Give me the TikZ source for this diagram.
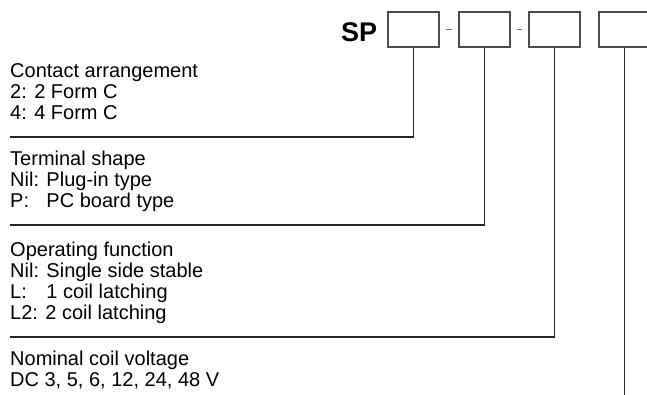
\documentclass[tikz,border=0pt]{standalone}
\usepackage{fontspec}
\setmainfont{Liberation Sans}
\usetikzlibrary{positioning}
\tikzset{
  digit/.style={draw=black!70, line width=1.2pt, minimum width=51pt, minimum height=35pt, inner sep=0pt},
  legend/.style={anchor=base west, align=left, inner sep=0pt, font=\fontsize{20}{21}\selectfont},
  leader/.style={draw=black!85, line width=1.1pt},
  hyph/.style={draw=black!55, line width=0.8pt},
}
\newcommand{\keyto}[1]{\rlap{#1}\hphantom{Nil: }}

\begin{document}
\begin{tikzpicture}[x=1pt,y=-1pt]
    \useasboundingbox (0,0) rectangle (647,395);
    % code boxes
    \node[digit] (b1) at (413.5,29.5) {};
    \node[digit] (b2) at (484.5,29.5) {};
    \node[digit] (b3) at (554.5,29.5) {};
    \node[digit] (b4) at (624.5,29.5) {};
    \node[left=10pt of b1, yshift=-3pt, inner sep=0pt, font=\fontsize{27}{27}\selectfont\bfseries] (sp) {SP};
    \draw[hyph] ([xshift=6pt]b1.east) -- ([xshift=-6pt]b2.west);
    \draw[hyph] ([xshift=6pt]b2.east) -- ([xshift=-6pt]b3.west);
    % legends (anchored on the last line)
    \node[legend] (contact) at (10,120) {Contact arrangement\\2: 2 Form C\\4: 4 Form C};
    \node[legend] (terminal) at (10,208) {Terminal shape\\Nil: Plug-in type\\\keyto{P:}PC board type};
    \node[legend] (function) at (10,319) {Operating function\\Nil: Single side stable\\\keyto{L:}1 coil latching\\L2: 2 coil latching};
    \node[legend] (voltage) at (10,386) {Nominal coil voltage\\DC 3, 5, 6, 12, 24, 48 V};
    % leaders
    \coordinate (r1) at (10,137);
    \coordinate (r2) at (10,225);
    \coordinate (r3) at (10,337);
    \coordinate (r4) at (624.5,395);
    \draw[leader] (b1.south) |- (r1);
    \draw[leader] (b2.south) |- (r2);
    \draw[leader] (b3.south) |- (r3);
    \draw[leader] (b4.south) -- (r4);
\end{tikzpicture}
\end{document}
